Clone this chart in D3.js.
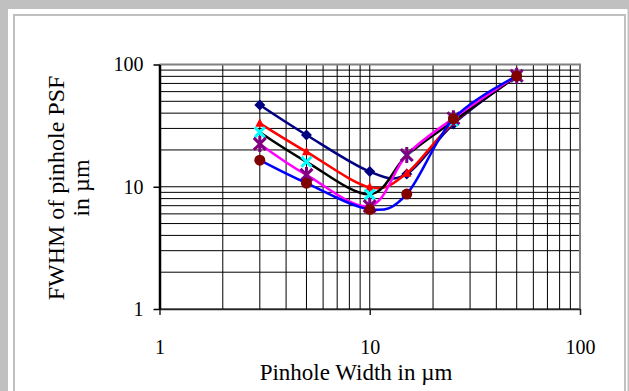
<!DOCTYPE html>
<html>
<head>
<meta charset="utf-8">
<script src="https://cdn.jsdelivr.net/npm/d3@7"></script>
<style>
  body { margin: 0; background: #fff; }
  svg { display: block; }
  .tick text { font-family: 'Liberation Serif', 'Times New Roman', serif; font-size: 20px; fill: #000; }
</style>
</head>
<body>
<div id="chart"></div>
<script>
const WIDTH = 629
const HEIGHT = 391

// pinhole widths (µm)
const widths = [3, 5, 10, 15, 25, 50]
// FWHM of pinhole PSF (µm), one array per curve
const navyValues = [46.6, 26.5, 13.3, 12.7, 32.6, 80]
const redValues = [33, 19.3, 9.9, 12.9, 33.5, 80]
const blackValues = [27.9, 16.0, 8.67, 18, 34.5, 80]
const magentaValues = [22.4, 12.5, 6.95, 18.2, 36.3, 81]
const blueValues = [16.5, 10.7, 6.53, 8.71, 36, 80.5]
const tickValues = [1, 10, 100]

const series = [
  { values: navyValues, line: '#000080', marker: 'diamond', mColor: '#000080' },
  { values: redValues, line: '#FF0000', marker: 'triangle', mColor: '#FF0000' },
  { values: blackValues, line: '#000000', marker: 'x', mColor: '#00FFFF' },
  { values: magentaValues, line: '#FF00FF', marker: 'star', mColor: '#800080' },
  { values: blueValues, line: '#0000FF', marker: 'circle', mColor: '#800000' }
]

const PLOT = { left: 159.5, right: 580, top: 64.5, bottom: 309 }
const FONT = "'Liberation Serif', 'Times New Roman', serif"

const x = d3.scaleLog().domain([1, 100]).range([PLOT.left, PLOT.right])
const y = d3.scaleLog().domain([1, 100]).range([PLOT.bottom, PLOT.top])

const svg = d3.select('#chart')
  .append('svg')
  .attr('width', WIDTH)
  .attr('height', HEIGHT)

// frame
svg.append('rect')
  .attr('width', WIDTH).attr('height', HEIGHT)
  .attr('fill', '#c0c0c0')
svg.append('rect')
  .attr('x', 8).attr('y', 9)
  .attr('width', 619.5).attr('height', 400)
  .attr('fill', '#fff')
svg.append('rect')
  .attr('x', 14).attr('y', 15)
  .attr('width', 611).attr('height', 400)
  .attr('fill', 'none')
  .attr('stroke', '#c0c0c0')
  .attr('stroke-width', 2)

// gridlines (major + minor, log)
const gridVals = []
for (let d = 1; d <= 10; d *= 10) {
  for (let k = 1; k <= 9; k++) gridVals.push(k * d)
}
gridVals.push(100)

const grid = svg.append('g')
grid.selectAll('.vgrid')
  .data(gridVals)
  .enter().append('line')
  .attr('x1', d => x(d)).attr('x2', d => x(d))
  .attr('y1', PLOT.top).attr('y2', PLOT.bottom)
  .attr('stroke', '#000')
  .attr('stroke-width', 1)
grid.selectAll('.hgrid')
  .data(gridVals)
  .enter().append('line')
  .attr('y1', d => y(d)).attr('y2', d => y(d))
  .attr('x1', PLOT.left).attr('x2', PLOT.right)
  .attr('stroke', '#000')
  .attr('stroke-width', 1)

// plot border (top + right)
svg.append('path')
  .attr('d', `M${PLOT.left},${PLOT.top}H${PLOT.right}V${PLOT.bottom}`)
  .attr('fill', 'none')
  .attr('stroke', '#808080')
  .attr('stroke-width', 2)

// axes
const xAxis = svg.append('g')
  .attr('transform', `translate(0,${PLOT.bottom})`)
  .call(d3.axisBottom(x).tickValues(tickValues).tickFormat(d3.format('d'))
    .tickSize(6).tickSizeOuter(0).tickPadding(25))
xAxis.select('.domain').attr('stroke', '#222').attr('stroke-width', 1.5)
xAxis.selectAll('.tick line').attr('stroke', '#222').attr('stroke-width', 1.5)

const yAxis = svg.append('g')
  .attr('transform', `translate(${PLOT.left},0)`)
  .call(d3.axisLeft(y).tickValues(tickValues).tickFormat(d3.format('d'))
    .tickSize(6).tickSizeOuter(0).tickPadding(10))
yAxis.select('.domain').attr('stroke', '#000').attr('stroke-width', 2.5)
yAxis.selectAll('.tick line').attr('stroke', '#000').attr('stroke-width', 1.5)

// curves
const line = d3.line()
  .x((d, i) => x(widths[i]))
  .y(d => y(d))
  .curve(d3.curveCatmullRom.alpha(0))

const symbols = {
  diamond: g => g.append('path').attr('d', 'M0,-5.5L5.5,0L0,5.5L-5.5,0Z'),
  triangle: g => g.append('path').attr('d', 'M0,-5L4.5,3.5L-4.5,3.5Z'),
  circle: g => g.append('circle').attr('r', 5.5),
  x: g => g.append('path').attr('d', 'M-5,-5L5,5M-5,5L5,-5').attr('stroke-width', 3),
  star: g => g.append('path').attr('d', 'M-6,-6L6,6M-6,6L6,-6M0,-8V8').attr('stroke-width', 3)
}

series.forEach(s => {
  svg.append('path')
    .datum(s.values)
    .attr('fill', 'none')
    .attr('stroke', s.line)
    .attr('stroke-width', 2.5)
    .attr('d', line)

  svg.append('g').selectAll('g')
    .data(s.values)
    .enter().append('g')
    .attr('transform', (d, i) => `translate(${x(widths[i])},${y(d)})`)
    .each(function () {
      const m = symbols[s.marker](d3.select(this))
      if (s.marker === 'x' || s.marker === 'star') {
        m.attr('fill', 'none').attr('stroke', s.mColor)
      } else {
        m.attr('fill', s.mColor)
      }
    })
})

// axis titles
svg.append('text')
  .attr('x', 356).attr('y', 380)
  .attr('text-anchor', 'middle')
  .style('font-family', FONT)
  .style('font-size', '23px')
  .text('Pinhole Width in µm')

const yTitle = svg.append('text')
  .attr('transform', 'translate(64,188) rotate(-90)')
  .attr('text-anchor', 'middle')
  .style('font-family', FONT)
  .style('font-size', '24px')
yTitle.append('tspan').attr('x', 0).attr('y', 0).text('FWHM of pinhole PSF')
yTitle.append('tspan').attr('x', 0).attr('y', 25).text('in µm')
</script>
</body>
</html>
